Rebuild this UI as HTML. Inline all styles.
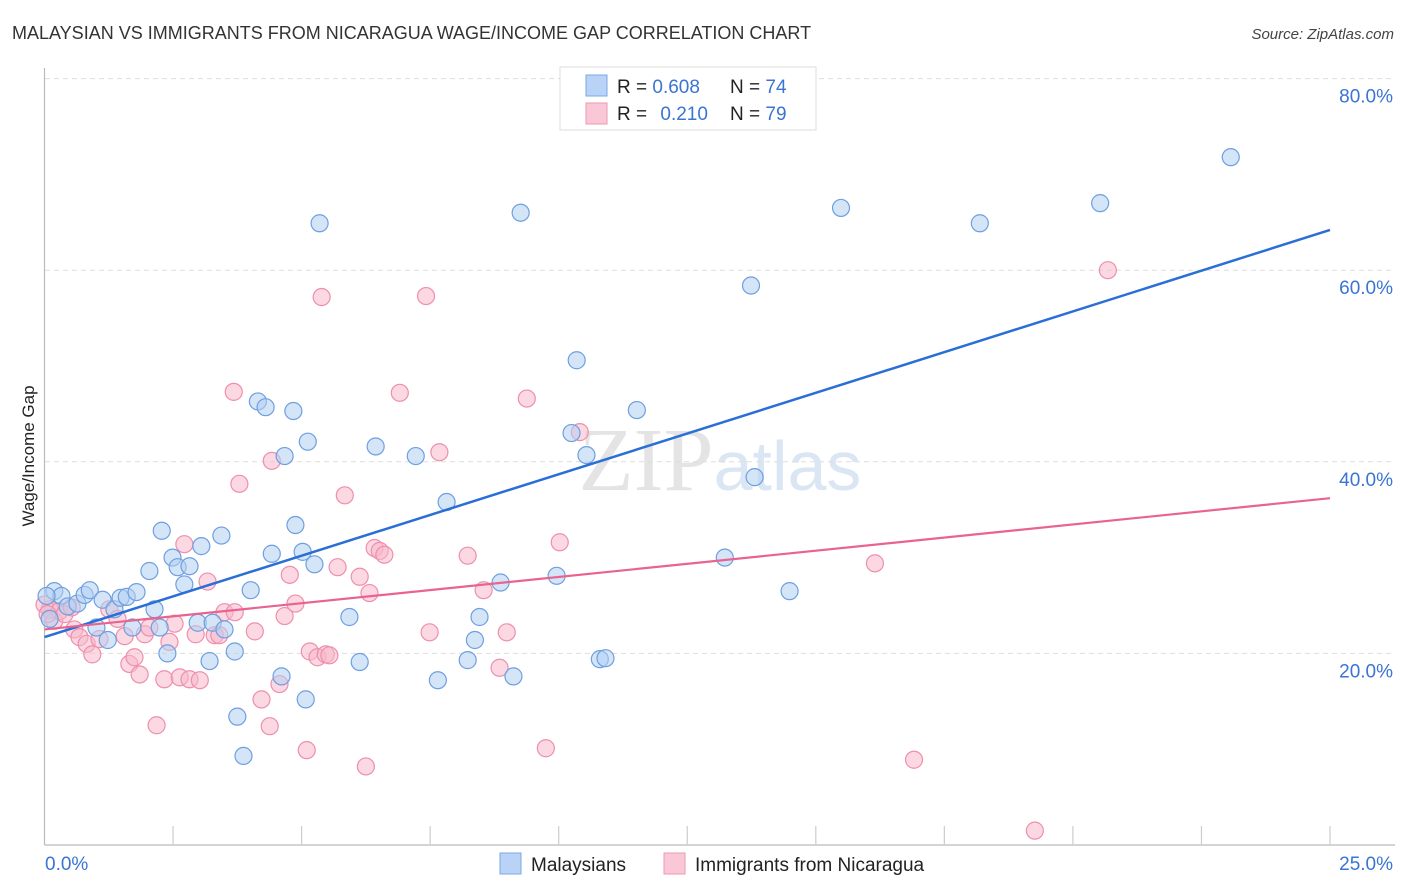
<!DOCTYPE html>
<html><head><meta charset="utf-8"><style>
body{margin:0;background:#fff;font-family:"Liberation Sans",sans-serif;}
svg{display:block}
</style></head><body>
<svg id="chart" width="1406" height="892" xmlns="http://www.w3.org/2000/svg">
<text x="12" y="39" font-size="18" fill="#333" font-family="Liberation Sans, sans-serif">MALAYSIAN VS IMMIGRANTS FROM NICARAGUA WAGE/INCOME GAP CORRELATION CHART</text>
<text x="1394" y="39" font-size="15" fill="#444" font-style="italic" text-anchor="end">Source: ZipAtlas.com</text>
<text x="720" y="490" font-size="90" fill="#e4e4e4" text-anchor="middle" font-family="Liberation Serif, serif">ZIP<tspan fill="#dbe6f4" font-family="Liberation Sans, sans-serif" font-size="70">atlas</tspan></text>
<g id="grid"></g>
<g id="axes"></g>
<g id="pts"></g>
<g id="trend"></g>
<text transform="translate(34,456) rotate(-90)" font-size="17" fill="#222" text-anchor="middle">Wage/Income Gap</text>
<g>
<rect x="560" y="67" width="256" height="63" fill="#fff" stroke="#ddd"/>
<rect x="586" y="75" width="21" height="21" fill="#b8d3f5" stroke="#7aa7e6"/>
<rect x="586" y="103" width="21" height="21" fill="#f9c7d6" stroke="#ee98b4"/>
<text x="617" y="93" font-size="19" fill="#222">R = <tspan fill="#3a74d4">0.608</tspan><tspan x="730">N = </tspan><tspan fill="#3a74d4">74</tspan></text>
<text x="617" y="120" font-size="19" fill="#222">R = <tspan fill="#3a74d4" dx="8">0.210</tspan><tspan x="730">N = </tspan><tspan fill="#3a74d4">79</tspan></text>
</g>
<g>
<rect x="500" y="853" width="21" height="21" fill="#b8d3f5" stroke="#7aa7e6"/>
<text x="531" y="871" font-size="19" fill="#222">Malaysians</text>
<rect x="664" y="853" width="21" height="21" fill="#f9c7d6" stroke="#ee98b4"/>
<text x="695" y="871" font-size="19" fill="#222">Immigrants from Nicaragua</text>
</g>
</svg>
<script>
const blueX=[.19,.33,.45,.64,.78,.88,1.01,1.13,1.23,1.36,1.48,1.60,1.71,1.79,2.04,2.14,2.24,2.28,2.39,2.49,2.59,2.72,2.82,2.98,3.05,3.21,3.27,3.44,3.50,3.70,3.75,3.87,4.01,4.15,4.30,4.67,4.84,4.88,4.42,4.61,5.02,5.12,5.25,5.35,5.08,5.93,6.13,6.44,7.22,7.65,7.82,8.23,8.37,8.46,8.87,9.12,9.26,9.96,10.25,10.35,10.54,10.80,10.91,11.52,13.23,13.74,13.81,14.49,15.49,18.19,20.53,23.07,.04,.10];
const blueY=[26.5,26.0,24.9,25.2,26.1,26.6,22.7,25.6,21.4,24.6,25.8,25.9,22.7,26.4,28.6,24.6,22.7,32.8,20.0,30.0,29.0,27.2,29.1,23.2,31.2,19.2,23.2,32.3,22.5,20.2,13.4,9.3,26.6,46.3,45.7,40.6,45.3,33.4,30.4,17.6,30.6,42.1,29.3,64.9,15.2,23.8,19.1,41.6,40.6,17.2,35.8,19.3,21.4,23.8,27.4,17.6,66.0,28.1,43.0,50.6,40.7,19.4,19.5,45.4,30.0,58.4,38.4,26.5,66.5,64.9,67.0,71.8,26.0,23.6];
const pinkX=[.10,.19,.29,.39,.53,.58,.68,.82,.93,1.07,1.26,1.42,1.56,1.65,1.75,1.85,1.95,2.04,2.18,2.33,2.43,2.53,2.63,2.72,2.82,2.94,3.02,3.17,3.31,3.40,3.50,3.70,3.68,3.79,4.09,4.22,4.38,4.42,4.57,4.67,4.77,4.88,5.10,5.16,5.31,5.39,5.47,5.54,5.70,5.84,6.13,6.25,6.32,6.42,6.52,6.61,6.91,7.42,7.49,7.68,8.23,8.54,8.85,8.99,9.38,9.75,10.02,10.41,16.15,16.91,19.26,20.68,0,.06];
const pinkY=[24.6,23.4,24.4,24.1,24.8,22.5,21.7,21.0,19.9,21.5,24.6,23.6,21.8,18.9,19.6,17.8,22.0,22.7,12.5,17.3,21.2,23.1,17.5,31.4,17.3,22.0,17.2,27.5,21.9,21.9,24.3,24.3,47.3,37.7,22.3,15.2,12.4,40.1,16.8,23.9,28.2,25.2,9.9,20.2,19.6,57.2,19.9,19.8,29.0,36.5,28.0,8.2,26.3,31.0,30.7,30.3,47.2,57.3,22.2,41.0,30.2,26.6,18.5,22.2,46.6,10.1,31.6,43.1,29.4,8.9,1.5,60.0,25.1,24.1];
const blueTrend=[21.7,64.2];
const pinkTrend=[22.5,36.2];
const yTicks=[20,40,60,80];
const xTickLabels=["0.0%","25.0%"];
const NS="http://www.w3.org/2000/svg";
const sx=v=>44.5+v*51.42;
const sy=v=>845-v*9.58;
function mk(tag,attrs,parent){const e=document.createElementNS(NS,tag);for(const k in attrs)e.setAttribute(k,attrs[k]);parent.appendChild(e);return e;}
const grid=document.getElementById('grid'),axes=document.getElementById('axes'),pts=document.getElementById('pts'),trend=document.getElementById('trend');
yTicks.forEach(t=>{
 const l=mk('line',{x1:45,x2:1395,y1:sy(t),y2:sy(t),stroke:'#ddd','stroke-dasharray':'5,4'},grid);
 
 
 const tx=mk('text',{x:1393,y:sy(t)+24,'font-size':19,fill:'#3a74d4','text-anchor':'end'},grid);
 tx.textContent=t.toFixed(1)+'%';
 
 
});
mk('line',{x1:44.5,x2:44.5,y1:68,y2:845,stroke:'#bbb','stroke-width':1.2},axes);
mk('line',{x1:44.5,x2:1395,y1:845,y2:845,stroke:'#bbb','stroke-width':1.2},axes);
for(let i=1;i<=10;i++){
 const t=mk('line',{x1:sx(i*2.5),x2:sx(i*2.5),y1:826,y2:845,stroke:'#ccc','stroke-width':1.2},axes);
 
 
}
const xl0=mk('text',{x:45,y:870,'font-size':19,fill:'#3a74d4'},axes);xl0.textContent=xTickLabels[0];


const xl1=mk('text',{x:1393,y:870,'font-size':19,fill:'#3a74d4','text-anchor':'end'},axes);xl1.textContent=xTickLabels[1];


function series(X,Y,fill,stroke,name){
 X.forEach((x,i)=>{
  const c=mk('circle',{cx:sx(x),cy:sy(Y[i]),r:8.5,fill:fill,'fill-opacity':0.55,stroke:stroke,'stroke-width':1.2},pts);
  
  
 });
}
series(pinkX,pinkY,'#f7b8cb','#ee8fae','point-nicaragua');
series(blueX,blueY,'#b3cff2','#6e9fe0','point-malaysian');
const bl=mk('line',{x1:sx(0),y1:sy(blueTrend[0]),x2:sx(25),y2:sy(blueTrend[1]),stroke:'#2a6fd6','stroke-width':2.5},trend);


const pl=mk('line',{x1:sx(0),y1:sy(pinkTrend[0]),x2:sx(25),y2:sy(pinkTrend[1]),stroke:'#e8648f','stroke-width':2.2},trend);


</script>
</body></html>
